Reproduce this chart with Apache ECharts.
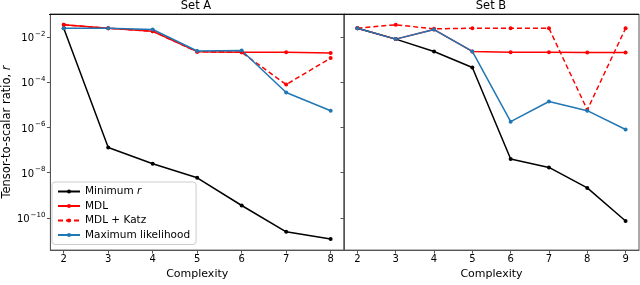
<!DOCTYPE html>
<html><head><meta charset="utf-8">
<script src="https://cdn.jsdelivr.net/npm/echarts@6/dist/echarts.min.js"></script>
<style>html,body{margin:0;padding:0;background:#fff}#c{width:640px;height:285px}</style>
</head><body><div id="c"></div>
<script>
// Complexity values
const complexityA = [2, 3, 4, 5, 6, 7, 8];
const complexityB = [2, 3, 4, 5, 6, 7, 8, 9];
// Set A (tensor-to-scalar ratio r)
const minRA   = [2.45e-2, 1.3e-7, 2.45e-8, 5.9e-9, 3.5e-10, 2.4e-11, 1.15e-11];
const mdlA    = [3.5e-2, 2.45e-2, 1.8e-2, 2.25e-3, 2.1e-3, 2.1e-3, 1.95e-3];
const katzA   = [3.5e-2, 2.45e-2, 1.8e-2, 2.25e-3, 2.1e-3, 7.9e-5, 1.17e-3];
const mlA     = [2.45e-2, 2.45e-2, 2.15e-2, 2.4e-3, 2.55e-3, 3.5e-5, 5.5e-6];
// Set B
const minRB   = [2.45e-2, 8.1e-3, 2.3e-3, 4.5e-4, 4.0e-8, 1.7e-8, 2.1e-9, 7.2e-11];
const mdlB    = [2.45e-2, 8.1e-3, 2.15e-2, 2.3e-3, 2.1e-3, 2.1e-3, 2.05e-3, 2.05e-3];
const katzB   = [2.45e-2, 3.5e-2, 2.3e-2, 2.45e-2, 2.45e-2, 2.45e-2, 6.0e-6, 2.45e-2];
const mlB     = [2.45e-2, 8.1e-3, 2.15e-2, 2.3e-3, 1.8e-6, 1.4e-5, 5.5e-6, 8.1e-7];
// tick labels
const yTickExps = [-10, -8, -6, -4, -2];
const xTicksA = [2, 3, 4, 5, 6, 7, 8];
const xTicksB = [2, 3, 4, 5, 6, 7, 8, 9];

const FONT = 'DejaVu Sans';
const RED = '#ff0000', BLUE = '#1f77b4', BLACK = '#000000';
const yMin = Math.pow(10, -11.43), yMax = Math.pow(10, -0.98);
const yTickVals = yTickExps.map(e => Math.pow(10, e));

function pairs(xs, ys) { return xs.map((x, i) => [x, ys[i]]); }

function xAxis(idx, min, max, ticks) {
  return {
    type: 'value', gridIndex: idx, min: min, max: max,
    name: 'Complexity', nameLocation: 'middle', nameGap: 18,
    nameTextStyle: { fontFamily: FONT, fontSize: 11, color: '#000' },
    axisLine: { show: true, lineStyle: { color: '#555', width: 1 } },
    axisTick: { show: true, length: 3.5, inside: false, customValues: ticks, lineStyle: { color: '#555' } },
    axisLabel: { customValues: ticks, fontFamily: FONT, fontSize: 10, color: '#000', margin: 4 },
    splitLine: { show: false }
  };
}
function yAxis(idx, showLabels) {
  const ax = {
    type: 'log', logBase: 10, gridIndex: idx, min: yMin, max: yMax,
    axisLine: { show: true, onZero: false, lineStyle: { color: '#555', width: 1 } },
    axisTick: { show: true, length: 3.5, customValues: yTickVals, lineStyle: { color: '#555' } },
    axisLabel: {
      show: showLabels, customValues: yTickVals, margin: 5,
      formatter: function (v) {
        const e = Math.round(Math.log10(v));
        return '{b|10}{s|\u2212' + Math.abs(e) + '}';
      },
      rich: {
        b: { fontFamily: FONT, fontSize: 10, color: '#000', verticalAlign: 'bottom' },
        s: { fontFamily: FONT, fontSize: 7, color: '#000', verticalAlign: 'bottom', padding: [0, 0, 6, 1] }
      }
    },
    splitLine: { show: false }
  };
  if (showLabels) {
    ax.name = '{n|Tensor-to-scalar ratio, }{i|r}';
    ax.nameLocation = 'middle';
    ax.nameGap = 37;
    ax.nameTextStyle = { rich: {
      n: { fontFamily: FONT, fontSize: 11.5, color: '#000' },
      i: { fontFamily: FONT, fontSize: 11.5, color: '#000', fontStyle: 'italic' }
    } };
  }
  return ax;
}
function series(name, idx, xs, ys, color, dashed) {
  return {
    name: name, type: 'line', xAxisIndex: idx, yAxisIndex: idx,
    data: pairs(xs, ys), symbol: 'circle', symbolSize: 4, showSymbol: true,
    lineStyle: { color: color, width: 1.5, type: dashed ? [5, 3] : 'solid' },
    itemStyle: { color: color }, animation: false, z: 2
  };
}

const chart = echarts.init(document.getElementById('c'), null, { renderer: 'canvas' });
chart.setOption({
  animation: false,
  backgroundColor: '#fff',
  title: [
    { text: 'Set A', left: 196, top: 0, padding: 0, textAlign: 'center', textStyle: { fontFamily: FONT, fontSize: 11.5, fontWeight: 'normal', color: '#000' } },
    { text: 'Set B', left: 491, top: 0, padding: 0, textAlign: 'center', textStyle: { fontFamily: FONT, fontSize: 11.5, fontWeight: 'normal', color: '#000' } }
  ],
  grid: [
    { left: 49, top: 14, width: 295, height: 240, show: true, borderColor: '#555', borderWidth: 1, backgroundColor: 'transparent' },
    { left: 344, top: 14, width: 295, height: 240, show: true, borderColor: '#555', borderWidth: 1, backgroundColor: 'transparent' }
  ],
  graphic: [
    { type: 'line', shape: { x1: 49, y1: 14.5, x2: 639, y2: 14.5 }, style: { stroke: '#111', lineWidth: 1 }, z: 10 }
  ],
  xAxis: [xAxis(0, 1.7, 8.3, xTicksA), xAxis(1, 1.65, 9.35, xTicksB)],
  yAxis: [yAxis(0, true), yAxis(1, false)],
  legend: {
    orient: 'vertical', left: 52, top: 182, itemGap: 3.5, itemWidth: 22, itemHeight: 5,
    padding: [4, 6, 4, 5],
    backgroundColor: 'rgba(255,255,255,0.85)', borderColor: '#ccc', borderWidth: 1, borderRadius: 3,
    textStyle: { fontFamily: FONT, fontSize: 10.5, color: '#000',
      rich: { i: { fontFamily: FONT, fontSize: 10.5, fontStyle: 'italic', color: '#000' } } },
    formatter: function (n) { return n === 'Minimum r' ? 'Minimum {i|r}' : n; },
    data: ['Minimum r', 'MDL', 'MDL + Katz', 'Maximum likelihood']
  },
  series: [
    series('Minimum r', 0, complexityA, minRA, BLACK, false),
    series('MDL', 0, complexityA, mdlA, RED, false),
    series('MDL + Katz', 0, complexityA, katzA, RED, true),
    series('Maximum likelihood', 0, complexityA, mlA, BLUE, false),
    series('Minimum r', 1, complexityB, minRB, BLACK, false),
    series('MDL', 1, complexityB, mdlB, RED, false),
    series('MDL + Katz', 1, complexityB, katzB, RED, true),
    series('Maximum likelihood', 1, complexityB, mlB, BLUE, false)
  ]
});
</script></body></html>
